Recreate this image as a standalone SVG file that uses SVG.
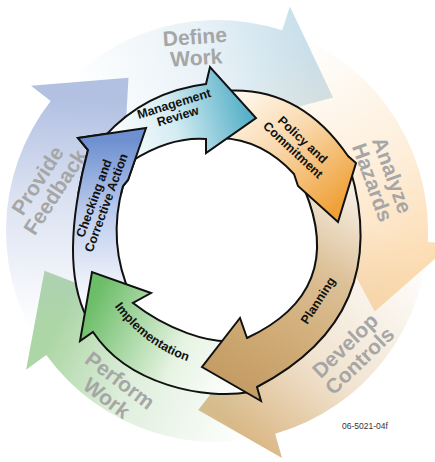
<svg xmlns="http://www.w3.org/2000/svg" width="435" height="462" viewBox="0 0 435 462">
<defs>
<style>
.outer-label{font-family:"Liberation Sans",Arial,Helvetica,sans-serif;font-weight:bold;font-size:21px;fill:#a6a6a6;text-anchor:middle}
.ring{stroke:#111;stroke-width:2;stroke-linejoin:miter;stroke-miterlimit:10}
.ring-label{font-family:"Liberation Sans",Arial,Helvetica,sans-serif;font-weight:bold;font-size:12.5px;fill:#111;text-anchor:middle}
.code{font-family:"Liberation Sans",Arial,sans-serif;font-size:8.5px;fill:#333}
</style>
<linearGradient id="gDefine" gradientUnits="userSpaceOnUse" x1="80" y1="110" x2="310" y2="50"><stop offset="0" stop-color="#c8dfeb" stop-opacity="0"/><stop offset="0.6" stop-color="#c8dfeb" stop-opacity="0.45"/><stop offset="1" stop-color="#c8dfeb"/></linearGradient>
<linearGradient id="gAnalyze" gradientUnits="userSpaceOnUse" x1="270" y1="60" x2="400" y2="280"><stop offset="0" stop-color="#fcdcb2" stop-opacity="0"/><stop offset="0.6" stop-color="#fcdcb2" stop-opacity="0.5"/><stop offset="1" stop-color="#fcdcb2"/></linearGradient>
<linearGradient id="gDevelop" gradientUnits="userSpaceOnUse" x1="400" y1="240" x2="240" y2="430"><stop offset="0" stop-color="#dbb887" stop-opacity="0"/><stop offset="0.6" stop-color="#dbb887" stop-opacity="0.4"/><stop offset="1" stop-color="#dbb887"/></linearGradient>
<linearGradient id="gPerform" gradientUnits="userSpaceOnUse" x1="260" y1="410" x2="60" y2="320"><stop offset="0" stop-color="#add6a6" stop-opacity="0"/><stop offset="0.6" stop-color="#add6a6" stop-opacity="0.4"/><stop offset="1" stop-color="#add6a6"/></linearGradient>
<linearGradient id="gProvide" gradientUnits="userSpaceOnUse" x1="70" y1="330" x2="80" y2="100"><stop offset="0" stop-color="#b2c0e2" stop-opacity="0"/><stop offset="0.6" stop-color="#b2c0e2" stop-opacity="0.5"/><stop offset="1" stop-color="#b2c0e2"/></linearGradient>
<linearGradient id="gCheck" gradientUnits="userSpaceOnUse" x1="110" y1="310" x2="110" y2="140"><stop offset="0" stop-color="#ffffff"/><stop offset="0.55" stop-color="#c0cfee"/><stop offset="1" stop-color="#6e90d0"/></linearGradient>
<linearGradient id="gMgmt" gradientUnits="userSpaceOnUse" x1="110" y1="140" x2="250" y2="100"><stop offset="0" stop-color="#ffffff"/><stop offset="0.45" stop-color="#d5ecf2"/><stop offset="1" stop-color="#4eacc5"/></linearGradient>
<linearGradient id="gPolicy" gradientUnits="userSpaceOnUse" x1="230" y1="95" x2="330" y2="215"><stop offset="0" stop-color="#fffaf2"/><stop offset="0.45" stop-color="#f9d9ad"/><stop offset="1" stop-color="#efa036"/></linearGradient>
<linearGradient id="gPlan" gradientUnits="userSpaceOnUse" x1="350" y1="175" x2="225" y2="380"><stop offset="0" stop-color="#faf5ee"/><stop offset="0.4" stop-color="#dcc097"/><stop offset="0.75" stop-color="#cfaa74"/><stop offset="1" stop-color="#c49c64"/></linearGradient>
<linearGradient id="gImpl" gradientUnits="userSpaceOnUse" x1="245" y1="370" x2="95" y2="295"><stop offset="0" stop-color="#ffffff"/><stop offset="0.4" stop-color="#e6f3e2"/><stop offset="1" stop-color="#6cbd68"/></linearGradient>
<clipPath id="clipCheckHead"><rect x="68" y="116" width="88" height="78"/></clipPath>
<path id="implBase" d="M 96,270.9 A 150 150 0 0 0 226.5,369.2"/>
</defs>

<g id="outer-cycle">
<g id="define-work">
<path fill="url(#gDefine)" d="M 34.3,125.5 A 211 211 0 0 1 282.2,30.3 L 289.9,6.6 L 333.1,97.4 L 253.5,118.8 L 260.3,97.9 A 140 140 0 0 0 95.8,161 Z"/>
<g transform="translate(196,54) rotate(-4)"><text class="outer-label" y="-10">Define</text><text class="outer-label" y="11">Work</text></g>
</g>
<g id="analyze-hazards">
<path fill="url(#gAnalyze)" d="M 271.6,27.2 A 211 211 0 0 1 427.7,242 L 452.7,243.3 L 374.7,311.4 L 334.8,237.2 L 356.8,238.3 A 140 140 0 0 0 253.2,95.8 Z"/>
<g transform="translate(376,181) rotate(70)"><text class="outer-label" y="-10">Analyze</text><text class="outer-label" y="11">Hazards</text></g>
</g>
<g id="develop-controls">
<path fill="url(#gDevelop)" d="M 428,231 A 211 211 0 0 1 275.2,433.8 L 282,457.9 L 198.2,410 L 249.5,344.4 L 255.6,365.6 A 140 140 0 0 0 357,231 Z"/>
<g transform="translate(357,358) rotate(-44)"><text class="outer-label" y="-10">Develop</text><text class="outer-label" y="11">Controls</text></g>
</g>
<g id="perform-work">
<path fill="url(#gPerform)" d="M 282.2,431.7 A 211 211 0 0 1 46.3,355 L 26.1,369.7 L 44.5,270.8 L 121.5,300.4 L 103.7,313.3 A 140 140 0 0 0 260.3,364.1 Z"/>
<g transform="translate(109,395) rotate(37)"><text class="outer-label" y="-11">Perform</text><text class="outer-label" y="11">Work</text></g>
</g>
<g id="provide-feedback">
<path fill="url(#gProvide)" d="M 46.3,355 A 211 211 0 0 1 50.7,101.1 L 31,85.7 L 128.5,77.7 L 124,158.3 L 106.7,144.8 A 140 140 0 0 0 103.7,313.3 Z"/>
<g transform="translate(52,190) rotate(-57)"><text class="outer-label" y="-10">Provide</text><text class="outer-label" y="11">Feedback</text></g>
</g>
</g>

<g id="ring">
<g id="checking-corrective-action">
<path id="shapeCheck" class="ring" fill="url(#gCheck)" d="M 87,318 Q 58.5,262 88,150 L 78,138 L 146,128 L 128,180 L 123,186 Q 107,243 131,296 Z"/>
</g>
<g id="implementation">
<path class="ring" fill="url(#gImpl)" d="M 250,392 C 205,400 128,385 93,332 L 80,341 L 92,272 L 151,293 L 133,303 C 165,328 210,346 240,340 Z"/>
</g>
<g id="planning">
<path class="ring" fill="url(#gPlan)" d="M 350,168 Q 393.7,315.8 257,387 L 261,401 L 202,367 L 240,318 L 247,338 Q 346.8,291.3 304.5,189.5 Z"/>
</g>
<g id="policy-commitment">
<path class="ring" fill="url(#gPolicy)" d="M 222,91 Q 299,84.5 348,156 L 356,163 L 338,222 L 298,186 L 294,174 Q 262.2,139.4 220.5,138 Z"/>
</g>
<g id="management-review">
<path class="ring" fill="url(#gMgmt)" d="M 104,137 Q 145,91.5 206,84 L 210,67 L 256,118 L 206,153 L 206,139 Q 170,136.5 132,161 Z"/>
</g>
<use href="#shapeCheck" clip-path="url(#clipCheckHead)"/>
</g>

<g id="ring-labels">
<g transform="translate(177,113.5) rotate(-17)"><text class="ring-label" y="-6">Management</text><text class="ring-label" y="7">Review</text></g>
<g transform="translate(295,148) rotate(43)"><text class="ring-label" y="-7">Policy and</text><text class="ring-label" y="7">Commitment</text></g>
<g transform="translate(321.6,302.8) rotate(-57)"><text class="ring-label">Planning</text></g>
<text class="ring-label"><textPath href="#implBase" startOffset="50%">Implementation</textPath></text>
<g transform="translate(104,202) rotate(-70)"><text class="ring-label" y="-6.5">Checking and</text><text class="ring-label" y="6.5">Corrective Action</text></g>
</g>

<text class="code" x="365" y="429" text-anchor="middle">06-5021-04f</text>
</svg>
